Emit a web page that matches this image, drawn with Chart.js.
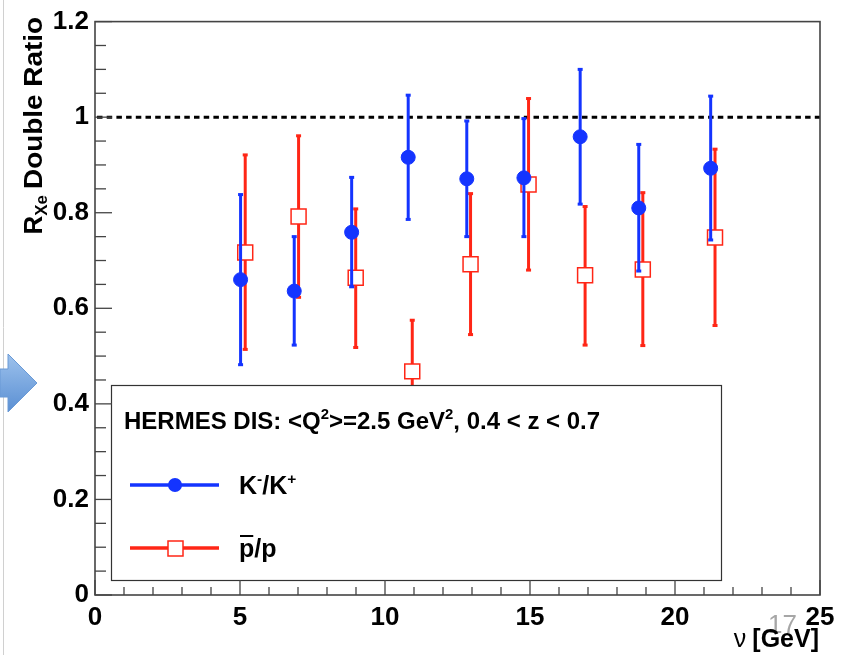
<!DOCTYPE html>
<html>
<head>
<meta charset="utf-8">
<script src="https://cdn.jsdelivr.net/npm/chart.js@4.4.0/dist/chart.umd.min.js"></script>
<style>
  body { margin: 0; background: #fff; }
  canvas { display: block; }
</style>
</head>
<body>
<canvas id="myChart" width="850" height="655"></canvas>
<script>
// K-/K+ double ratio vs nu [GeV]
var kaonNu = [5.02, 6.87, 8.85, 10.8, 12.82, 14.79, 16.73, 18.75, 21.23];
var kaonRatio = [0.66, 0.636, 0.759, 0.916, 0.871, 0.873, 0.959, 0.81, 0.893];
var kaonLow = [0.482, 0.523, 0.645, 0.786, 0.75, 0.75, 0.818, 0.678, 0.743];
var kaonHigh = [0.838, 0.75, 0.874, 1.046, 0.992, 0.997, 1.10, 0.943, 1.044];

// pbar/p double ratio vs nu [GeV]
var protonNu = [5.18, 7.02, 8.99, 10.94, 12.95, 14.95, 16.9, 18.89, 21.38];
var protonRatio = [0.717, 0.792, 0.664, 0.468, 0.692, 0.859, 0.669, 0.681, 0.748];
var protonLow = [0.514, 0.623, 0.518, 0.36, 0.545, 0.68, 0.523, 0.522, 0.564];
var protonHigh = [0.921, 0.961, 0.808, 0.575, 0.84, 1.039, 0.813, 0.842, 0.933];

var xTicks = [0, 5, 10, 15, 20, 25];
var yTicks = [0, 0.2, 0.4, 0.6, 0.8, 1, 1.2];
var standard = 1;

var blue = '#1434ff';
var red = '#ff2616';
var fontFamily = '"Liberation Sans", Arial, sans-serif';

const ctx = document.getElementById('myChart');

function toPoints(xs, ys) {
  return xs.map((v, i) => ({ x: v, y: ys[i] }));
}

// vertical error bars, drawn just under each dataset's markers
const errorBars = {
  id: 'errorBars',
  beforeDatasetDraw(chart, args) {
    var ds = chart.data.datasets[args.index];
    var c = chart.ctx, sx = chart.scales.x, sy = chart.scales.y;
    c.save();
    c.strokeStyle = ds.borderColor;
    c.fillStyle = ds.borderColor;
    c.lineWidth = 3;
    ds.data.forEach((p, i) => {
      var px = sx.getPixelForValue(p.x);
      var top = sy.getPixelForValue(ds.errHigh[i]);
      var bot = sy.getPixelForValue(ds.errLow[i]);
      c.beginPath();
      c.moveTo(px, top);
      c.lineTo(px, bot);
      c.stroke();
      c.fillRect(px - 2.5, top - 1.5, 5, 3);
      c.fillRect(px - 2.5, bot - 1.5, 5, 3);
    });
    c.restore();
  }
};

function drawRich(c, x, y, parts, size, weight) {
  parts.forEach(p => {
    var s = p.sup ? size * 0.62 : size;
    c.font = weight + ' ' + s + 'px ' + fontFamily;
    c.fillText(p.t, x, p.sup ? y - size * 0.42 : y);
    x += c.measureText(p.t).width;
  });
  return x;
}

const frame = {
  id: 'frame',
  beforeDatasetsDraw(chart) {
    var c = chart.ctx, a = chart.chartArea, sy = chart.scales.y;
    // dotted reference line at 1
    var yy = sy.getPixelForValue(standard);
    c.save();
    c.strokeStyle = '#000';
    c.lineWidth = 3;
    c.setLineDash([5.5, 4.2]);
    c.beginPath();
    c.moveTo(a.left + 2, yy);
    c.lineTo(a.right, yy);
    c.stroke();
    c.restore();
  },
  afterDatasetsDraw(chart) {
    var c = chart.ctx, a = chart.chartArea, sx = chart.scales.x, sy = chart.scales.y;
    c.save();
    // legend box
    var lx = 111, ly = 385, lw = 610, lh = 195;
    c.fillStyle = '#fff';
    c.fillRect(lx, ly, lw, lh);
    c.strokeStyle = '#333';
    c.lineWidth = 1.2;
    c.strokeRect(lx + 0.5, ly + 0.5, lw, lh);

    c.fillStyle = '#000';
    c.textAlign = 'left';
    c.textBaseline = 'alphabetic';
    drawRich(c, 124, 429, [
      { t: 'HERMES DIS: <Q' }, { t: '2', sup: true }, { t: '>=2.5 GeV' }, { t: '2', sup: true },
      { t: ', 0.4 < z < 0.7' }
    ], 24, 'bold');

    // K-/K+ entry
    c.strokeStyle = blue;
    c.lineWidth = 3.5;
    c.beginPath(); c.moveTo(130, 485); c.lineTo(219, 485); c.stroke();
    c.fillStyle = blue;
    c.beginPath(); c.arc(175, 485, 7, 0, Math.PI * 2); c.fill();
    c.fillStyle = '#000';
    drawRich(c, 239, 494, [{ t: 'K' }, { t: '-', sup: true }, { t: '/K' }, { t: '+', sup: true }], 25, 'bold');

    // pbar/p entry
    c.strokeStyle = red;
    c.beginPath(); c.moveTo(130, 548); c.lineTo(219, 548); c.stroke();
    c.fillStyle = '#fff';
    c.fillRect(168, 541, 15, 15);
    c.lineWidth = 1.5;
    c.strokeRect(168, 541, 15, 15);
    c.fillStyle = '#000';
    c.font = 'bold 25px ' + fontFamily;
    c.fillText('p/p', 239, 557);
    var pw = c.measureText('p').width;
    c.fillRect(240, 535, pw - 2, 2);

    // frame
    c.strokeStyle = '#444';
    c.lineWidth = 1.6;
    c.strokeRect(a.left, a.top, a.right - a.left, a.bottom - a.top);

    // inward ticks on x axis
    c.lineWidth = 1.3;
    for (var v = 0; v <= 25; v++) {
      var px = sx.getPixelForValue(v);
      var len = v % 5 === 0 ? 15 : 8;
      c.beginPath(); c.moveTo(px, a.bottom); c.lineTo(px, a.bottom - len); c.stroke();
    }
    // inward ticks on y axis
    for (var k = 0; k <= 24; k++) {
      var py = sy.getPixelForValue(k * 0.05);
      var l2 = k % 4 === 0 ? 17 : 11;
      c.beginPath(); c.moveTo(a.left, py); c.lineTo(a.left + l2, py); c.stroke();
    }
    c.restore();
  },
  afterDraw(chart) {
    var c = chart.ctx, a = chart.chartArea;
    c.save();
    // slide edge and arrow
    c.strokeStyle = '#d0d0d0';
    c.lineWidth = 1;
    c.beginPath(); c.moveTo(3.5, 0); c.lineTo(3.5, 655); c.stroke();
    var g = c.createLinearGradient(0, 355, 0, 412);
    g.addColorStop(0, '#9cc1ec');
    g.addColorStop(1, '#5a8fd3');
    c.fillStyle = g;
    c.beginPath();
    c.moveTo(0, 369); c.lineTo(8, 369); c.lineTo(8, 354); c.lineTo(37, 383);
    c.lineTo(8, 412); c.lineTo(8, 397); c.lineTo(0, 397); c.closePath();
    c.fill();
    c.strokeStyle = '#6a9ad6';
    c.stroke();

    // slide number
    c.fillStyle = '#a6a6a6';
    c.font = '26px ' + fontFamily;
    c.textAlign = 'left';
    c.fillText('17', 768, 633);

    // x title
    c.fillStyle = '#000';
    c.textAlign = 'right';
    c.font = 'bold 25px ' + fontFamily;
    c.fillText('[GeV]', 819, 647);
    var gw = c.measureText('[GeV]').width;
    c.font = '25px ' + fontFamily;
    c.fillText('\u03bd', 819 - gw - 6, 647);

    // y title, rotated, ending at top of axis
    c.translate(42, 17);
    c.rotate(-Math.PI / 2);
    c.textAlign = 'left';
    c.font = 'bold 26px ' + fontFamily;
    var wR = c.measureText('R').width;
    c.font = 'bold 17px ' + fontFamily;
    var wX = c.measureText('Xe').width;
    c.font = 'bold 26px ' + fontFamily;
    var wD = c.measureText('Double Ratio').width;
    var target = 172;
    var start = -(wR + wX + 6 + target);
    c.fillText('R', start, 0);
    c.font = 'bold 17px ' + fontFamily;
    c.fillText('Xe', start + wR, 5);
    c.font = 'bold 26px ' + fontFamily;
    c.save();
    c.translate(-target, 0);
    c.scale(target / wD, 1);
    c.fillText('Double Ratio', 0, 0);
    c.restore();
    c.restore();
  }
};

Chart.defaults.font.family = fontFamily;

const chart = new Chart(ctx, {
  type: 'scatter',
  data: {
    datasets: [{
      label: 'K-/K+',
      data: toPoints(kaonNu, kaonRatio),
      errLow: kaonLow,
      errHigh: kaonHigh,
      borderColor: blue,
      backgroundColor: blue,
      pointStyle: 'circle',
      pointRadius: 7,
      borderWidth: 1
    }, {
      label: 'pbar/p',
      data: toPoints(protonNu, protonRatio),
      errLow: protonLow,
      errHigh: protonHigh,
      borderColor: red,
      backgroundColor: '#fff',
      pointStyle: 'rect',
      pointRadius: 10.6,
      borderWidth: 1.5
    }]
  },
  options: {
    responsive: false,
    animation: false,
    devicePixelRatio: 1,
    layout: { padding: { top: 17, right: 30, bottom: 0, left: 0 } },
    plugins: {
      legend: { display: false },
      tooltip: { enabled: false }
    },
    scales: {
      x: {
        type: 'linear',
        min: 0,
        max: 25,
        grid: { display: false, drawTicks: false },
        border: { display: false },
        afterBuildTicks: s => { s.ticks = xTicks.map(v => ({ value: v })); },
        afterFit: s => { s.height = 60; },
        ticks: {
          color: '#000',
          padding: 7,
          maxRotation: 0,
          autoSkip: false,
          font: { size: 26, weight: 'bold' },
          callback: v => String(v)
        }
      },
      y: {
        min: 0,
        max: 1.2,
        grid: { display: false, drawTicks: false },
        border: { display: false },
        afterBuildTicks: s => { s.ticks = yTicks.map(v => ({ value: v })); },
        afterFit: s => { s.width = 95; },
        ticks: {
          color: '#000',
          padding: 6,
          autoSkip: false,
          font: { size: 26, weight: 'bold' },
          callback: v => String(v)
        }
      }
    }
  },
  plugins: [errorBars, frame]
});
</script>
</body>
</html>
